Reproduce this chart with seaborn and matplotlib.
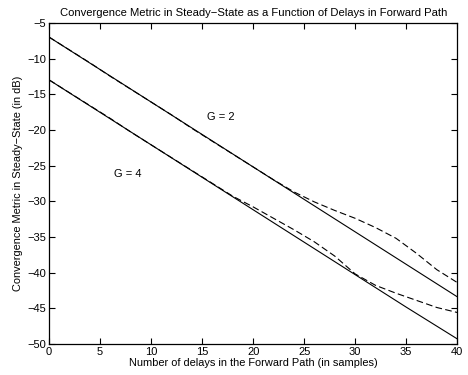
import matplotlib
matplotlib.use('Agg')
import matplotlib.pyplot as plt
import seaborn as sns
import numpy as np

# Theoretical steady-state curves (straight lines)
delays_theory = [0, 5, 10, 15, 20, 25, 30, 35, 40]
theory_g2 = [-7.0, -11.55, -16.1, -20.65, -25.2, -29.75, -34.3, -38.85, -43.4]
theory_g4 = [-13.0, -17.55, -22.1, -26.65, -31.2, -35.75, -40.3, -44.85, -49.3]

# Simulated curves (dashed)
delays_sim = [0, 2, 4, 6, 8, 10, 12, 14, 16, 18, 20, 22, 24, 26, 28, 30, 32, 34, 36, 38, 40]
sim_g2 = [-7.0, -8.8, -10.6, -12.5, -14.3, -16.1, -17.9, -19.8, -21.6, -23.4, -25.2,
          -27.0, -28.7, -30.1, -31.3, -32.4, -33.7, -35.2, -37.3, -39.6, -41.4]
sim_g4 = [-13.0, -14.8, -16.6, -18.4, -20.3, -22.1, -23.9, -25.7, -27.5, -29.3, -30.8,
          -32.4, -34.0, -35.7, -37.7, -40.2, -41.8, -42.9, -43.9, -44.9, -45.6]

sns.set_style("ticks")
plt.rcParams['font.family'] = ['Liberation Sans', 'DejaVu Sans']
plt.rcParams['xtick.direction'] = 'in'
plt.rcParams['ytick.direction'] = 'in'
for key in ('text.color', 'axes.labelcolor', 'xtick.color', 'ytick.color', 'axes.edgecolor'):
    plt.rcParams[key] = 'black'

fig = plt.figure(figsize=(4.68, 3.75), dpi=100)
ax = fig.add_axes([0.105, 0.083, 0.872, 0.856])

for ys in (sim_g2, sim_g4):
    sns.lineplot(x=delays_sim, y=ys, ax=ax, color='black', linewidth=0.8,
                 linestyle=(0, (6, 3)))
for ys in (theory_g2, theory_g4):
    sns.lineplot(x=delays_theory, y=ys, ax=ax, color='black', linewidth=0.8)

ax.text(16.8, -18.2, 'G = 2', fontsize=8, ha='center', va='center')
ax.text(7.7, -26.2, 'G = 4', fontsize=8, ha='center', va='center')

ax.set_xlim(0, 40)
ax.set_ylim(-50, -5)
ax.set_xticks(np.arange(0, 41, 5))
ax.set_yticks(np.arange(-50, -4, 5))
ax.tick_params(labelsize=8, length=4, width=0.8, top=True, right=True, pad=2)
for s in ax.spines.values():
    s.set_linewidth(0.9)

ax.set_title('Convergence Metric in Steady\u2212State as a Function of Delays in Forward Path',
             fontsize=8.1, pad=5)
ax.set_xlabel('Number of delays in the Forward Path (in samples)', fontsize=7.9, labelpad=1)
ax.set_ylabel('Convergence Metric in Steady\u2212State (in dB)', fontsize=7.9, labelpad=3)

fig.savefig('out.png', dpi=100)
